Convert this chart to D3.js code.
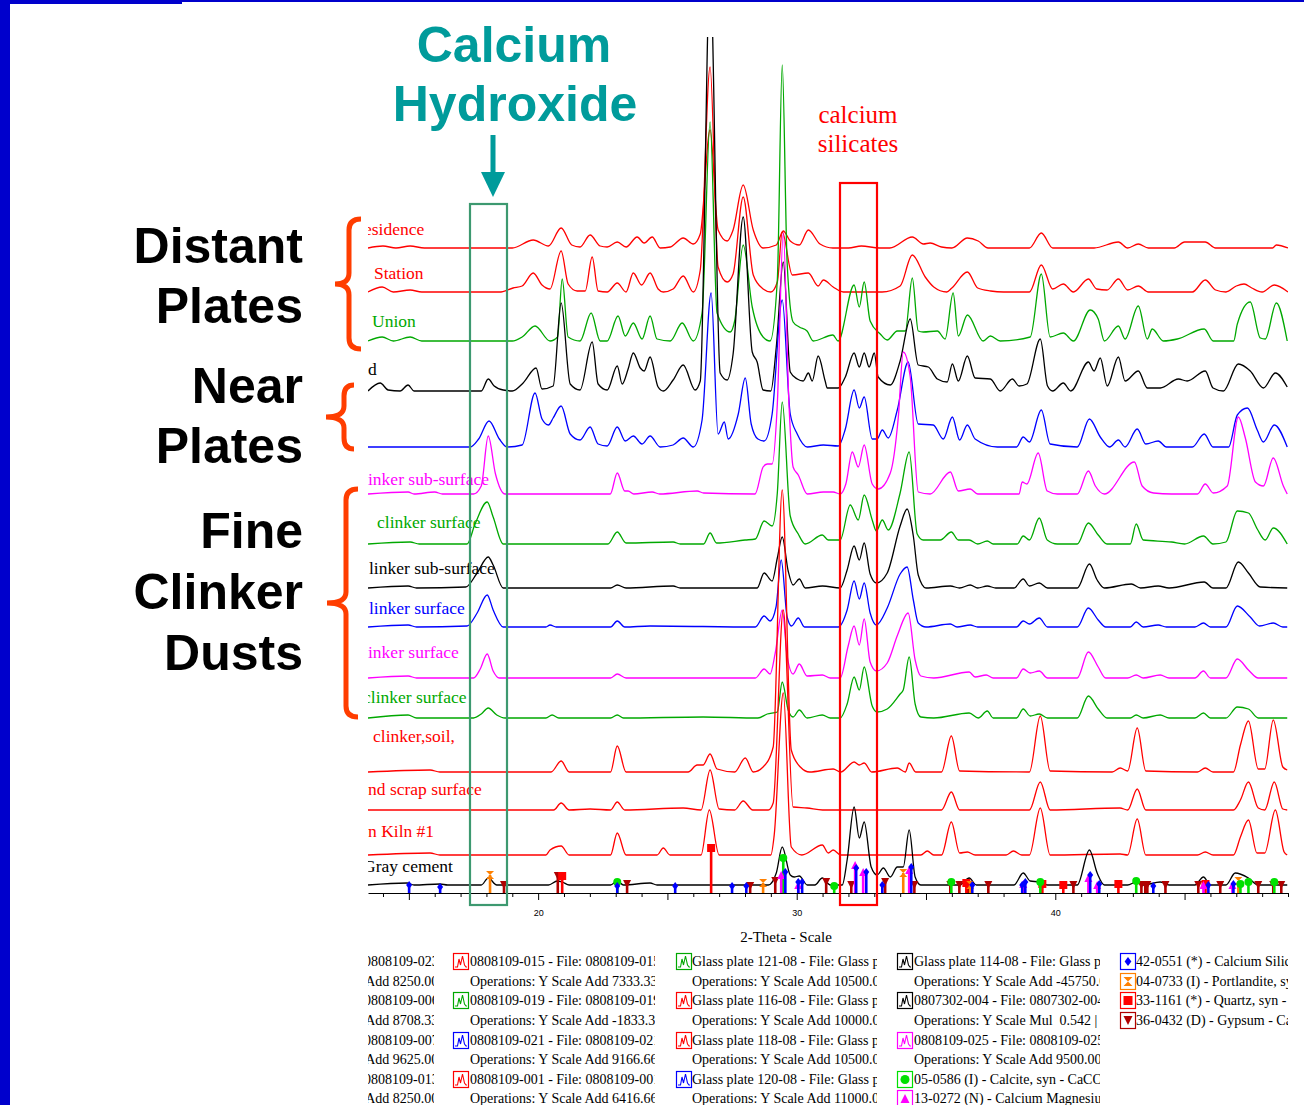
<!DOCTYPE html>
<html>
<head>
<meta charset="utf-8">
<script src="https://cdn.jsdelivr.net/npm/d3@7"></script>
<style>
body { margin: 0; background: #fff; }
svg text { white-space: pre; }
</style>
</head>
<body>
<div id="plot"></div>
<script>
// ---- Data: [2-Theta, intensity above the trace's own baseline] ----
var t1 = [[13.42,0],[14.0,2],[14.5,0],[15.05,2],[15.6,0],[19.0,0],[19.81,8],[20.4,2],[20.89,20],[21.3,3],[21.62,1],[22.01,13],[22.4,2],[22.67,1],[23.06,6],[23.4,1],[23.83,11],[24.1,5],[24.41,11],[24.72,0],[25.11,1],[25.61,10],[26.0,4],[26.27,14],[26.65,118],[26.96,18],[27.31,7],[27.54,18],[27.93,63],[28.32,18],[28.7,0],[29.21,3],[29.48,17],[29.75,7],[30.1,3],[30.45,18],[30.9,4],[31.4,0],[32.0,0],[32.5,2],[33.2,0],[33.6,0],[34.47,11],[34.9,4],[35.16,5],[35.6,1],[36.0,0],[36.6,10],[37.02,7],[37.4,0],[39.0,0],[39.46,15],[39.9,0],[41.5,0],[42.44,6],[42.8,0],[43.21,4],[43.6,0],[44.6,0],[45.0,6],[45.8,6],[46.2,0],[48.4,0],[48.55,3],[49.0,0]];
var t2 = [[13.42,0],[13.97,5],[14.4,0],[15.05,2],[15.5,0],[18.5,0],[19.03,4],[19.38,6],[19.81,19],[20.15,7],[20.46,3],[20.89,41],[21.16,8],[21.51,1],[21.82,1],[22.09,35],[22.32,1],[22.67,0],[23.06,9],[23.4,0],[23.68,19],[24.0,7],[24.33,19],[24.64,3],[24.84,0],[25.22,3],[25.61,16],[26.0,0],[26.27,22],[26.65,225],[26.96,25],[27.31,10],[27.54,18],[27.93,95],[28.32,17],[28.7,3],[29.0,0],[29.25,10],[29.44,60],[29.83,17],[30.45,19],[30.83,6],[31.03,12],[31.41,5],[31.8,0],[33.3,0],[34.0,6],[34.47,37],[34.97,15],[35.3,5],[35.8,0],[36.0,4],[36.6,20],[37.0,4],[37.5,1],[38.0,0],[39.0,0],[39.46,27],[39.9,3],[40.31,8],[40.7,0],[41.28,13],[41.6,3],[42.0,2],[42.44,13],[42.8,2],[43.21,6],[43.6,0],[45.3,0],[45.8,12],[46.2,2],[46.6,0],[47.0,6],[47.3,8],[47.6,4],[48.0,0],[48.47,7],[49.0,0]];
var t3 = [[13.42,0],[13.97,4],[14.4,0],[15.05,4],[15.5,0],[19.0,0],[19.38,4],[19.88,15],[20.46,0],[20.75,4],[20.93,62],[21.16,4],[21.62,0],[22.05,28],[22.4,0],[22.67,0],[23.09,25],[23.37,5],[23.68,18],[24.02,2],[24.33,25],[24.6,2],[25.11,0],[25.57,18],[26.0,0],[26.34,28],[26.65,219],[26.92,28],[27.43,9],[27.6,20],[27.93,96],[28.28,34],[28.7,4],[28.97,0],[29.25,61],[29.44,276],[29.63,78],[29.86,19],[30.1,14],[30.4,10],[30.64,0],[31.4,6],[31.6,0],[32.22,56],[32.42,34],[32.61,59],[32.84,20],[33.23,7],[33.5,1],[33.89,10],[34.2,10],[34.47,63],[34.7,10],[34.89,9],[35.44,10],[35.74,2],[36.05,48],[36.25,5],[36.6,26],[37.21,0],[37.49,5],[37.87,0],[39.03,4],[39.46,67],[39.8,4],[40.31,8],[40.7,0],[41.35,31],[41.66,22],[41.9,0],[42.44,15],[42.7,2],[43.21,35],[43.56,2],[43.75,12],[44.18,0],[44.72,2],[45.76,12],[46.11,0],[46.9,0],[47.04,17],[47.54,39],[47.93,3],[48.12,2],[48.55,38],[48.97,0]];
var t4 = [[13.42,0],[13.89,8],[14.2,1],[14.66,0],[14.97,6],[15.2,0],[17.8,0],[18.07,12],[18.3,5],[18.65,1],[19.0,0],[19.42,8],[19.92,23],[20.15,2],[20.58,5],[20.89,88],[21.24,7],[21.62,1],[22.09,49],[22.32,7],[22.67,1],[23.06,25],[23.25,7],[23.48,22],[23.68,38],[23.95,23],[24.1,20],[24.33,34],[24.64,4],[24.84,0],[25.22,11],[25.61,26],[26.07,1],[26.27,10],[26.65,420],[27.04,18],[27.31,11],[27.54,37],[27.93,174],[28.28,39],[28.47,29],[28.7,1],[29.0,0],[29.21,44],[29.48,129],[29.75,19],[30.02,12],[30.25,10],[30.45,18],[30.6,10],[30.83,35],[31.1,10],[31.18,3],[31.61,3],[31.88,14],[32.22,38],[32.42,24],[32.61,38],[32.8,24],[33.0,38],[33.15,14],[33.62,6],[34.0,30],[34.39,72],[34.7,26],[35.09,24],[35.44,12],[35.82,9],[36.02,27],[36.25,10],[36.6,35],[36.9,13],[37.49,12],[37.87,0],[38.34,12],[38.6,5],[38.9,7],[39.42,52],[39.7,5],[39.9,0],[40.31,8],[40.6,0],[41.28,29],[41.5,20],[41.74,33],[42.01,5],[42.44,34],[42.7,10],[43.21,20],[43.56,3],[44.06,3],[44.76,12],[45.1,10],[45.8,20],[46.1,3],[46.5,0],[47.08,27],[47.54,20],[48.05,3],[48.51,18],[48.97,4]];
var t5 = [[13.42,0],[17.37,0],[17.7,8],[18.1,26],[18.5,8],[18.8,0],[19.38,2],[19.88,54],[20.15,28],[20.4,22],[20.58,29],[20.89,41],[21.24,13],[21.62,7],[22.01,20],[22.32,3],[22.67,1],[23.06,20],[23.37,6],[23.68,11],[24.02,3],[24.33,11],[24.72,0],[25.22,2],[25.61,9],[26.0,0],[26.34,27],[26.69,154],[26.96,13],[27.2,25],[27.35,8],[27.74,33],[28.01,69],[28.24,23],[28.5,8],[28.74,6],[29.05,33],[29.44,147],[29.75,33],[30.02,13],[30.41,0],[31.03,2],[31.61,1],[31.88,18],[32.22,57],[32.42,39],[32.61,50],[32.92,8],[33.11,8],[33.31,17],[33.54,9],[33.89,37],[34.31,85],[34.7,23],[35.28,22],[35.67,8],[36.02,30],[36.3,7],[36.6,22],[36.9,8],[37.76,0],[38.5,0],[38.76,10],[39.0,5],[39.46,37],[39.8,3],[40.85,0],[41.32,28],[41.74,10],[42.1,0],[42.44,7],[42.7,0],[43.17,18],[43.5,3],[43.98,6],[44.3,0],[45.3,0],[45.76,13],[46.1,0],[46.7,0],[47.04,32],[47.43,39],[47.81,17],[48.05,5],[48.47,22],[48.97,0]];
var t6 = [[13.42,0],[14.97,2],[15.2,0],[16.0,2],[16.3,0],[17.5,0],[17.8,8],[18.07,58],[18.35,20],[18.72,0],[22.79,0],[23.06,21],[23.35,3],[23.48,3],[23.7,0],[24.41,2],[24.7,0],[26.15,3],[26.4,1],[28.39,0],[28.7,27],[28.86,30],[29.05,30],[29.25,90],[29.48,261],[29.7,90],[29.86,27],[30.06,19],[30.41,0],[31.03,2],[31.41,2],[31.68,0],[31.9,10],[32.15,42],[32.38,27],[32.61,49],[32.92,10],[33.15,5],[33.62,21],[33.93,77],[34.12,142],[34.39,117],[34.7,2],[35.16,0],[35.94,22],[36.25,3],[36.71,5],[37.0,0],[38.6,0],[38.72,12],[38.9,10],[39.34,41],[39.69,3],[40.08,0],[40.85,0],[41.28,23],[41.55,8],[41.9,0],[43.06,32],[43.36,8],[43.8,1],[44.5,0],[45.5,0],[45.8,10],[46.11,1],[46.65,8],[47.08,77],[47.35,56],[47.74,12],[48.05,8],[48.43,36],[48.82,8],[48.97,0]];
var t7 = [[13.42,0],[15.05,2],[15.4,0],[17.25,0],[17.56,20],[18.03,42],[18.26,27],[18.65,0],[22.7,0],[23.06,12],[23.4,1],[25.22,2],[25.5,0],[26.4,0],[26.65,11],[26.9,1],[28.0,4],[28.4,5],[28.74,23],[29.05,18],[29.25,51],[29.44,142],[29.75,28],[30.06,10],[30.33,0],[30.99,9],[31.22,4],[31.68,4],[32.07,39],[32.38,24],[32.61,49],[32.92,24],[33.08,13],[33.31,24],[33.54,14],[34.0,51],[34.35,92],[34.66,10],[34.89,4],[35.55,4],[35.98,12],[36.25,4],[36.67,4],[37.0,0],[37.37,3],[37.6,0],[38.53,0],[38.76,8],[39.0,4],[39.38,26],[39.69,4],[40.08,0],[40.85,0],[41.28,21],[41.66,9],[42.0,0],[42.9,0],[43.13,20],[43.4,4],[44.5,2],[45.0,0],[45.73,8],[46.1,0],[46.6,2],[47.04,33],[47.47,31],[47.81,15],[48.12,4],[48.43,16],[48.97,0]];
var t8 = [[13.42,0],[14.97,2],[15.3,0],[17.2,1],[17.64,15],[18.07,31],[18.26,23],[18.65,0],[22.8,0],[23.06,3],[23.4,0],[25.22,2],[25.5,0],[28.47,0],[28.74,15],[29.05,7],[29.25,30],[29.44,51],[29.67,17],[29.86,3],[30.1,9],[30.33,0],[31.0,2],[31.68,0],[31.95,18],[32.22,42],[32.42,28],[32.61,45],[32.84,14],[33.08,5],[33.5,15],[34.0,62],[34.27,79],[34.51,52],[34.7,13],[35.0,0],[35.94,2],[36.3,0],[36.71,3],[37.0,0],[37.37,2],[37.7,0],[38.4,0],[38.76,9],[39.0,2],[39.38,5],[39.7,0],[40.85,0],[41.32,24],[41.62,8],[41.9,0],[42.94,4],[43.3,0],[43.98,2],[44.4,0],[45.76,6],[46.1,0],[46.6,0],[47.08,26],[47.47,15],[47.93,1],[48.97,0]];
var t9 = [[13.42,0],[14.97,2],[15.3,0],[17.25,1],[17.64,14],[18.03,32],[18.26,17],[18.65,0],[20.3,0],[20.46,2],[20.7,0],[22.8,0],[23.06,6],[23.35,0],[24.33,1],[28.4,0],[28.74,11],[28.97,6],[29.2,20],[29.4,67],[29.63,10],[29.8,1],[30.06,9],[30.3,0],[31.61,0],[31.95,17],[32.22,46],[32.42,28],[32.61,44],[32.84,14],[33.08,2],[33.5,19],[34.0,53],[34.27,60],[34.51,27],[34.7,4],[35.0,0],[35.94,3],[36.2,0],[36.71,2],[37.0,0],[38.5,0],[38.76,6],[39.0,3],[39.38,9],[39.7,0],[40.85,0],[41.28,19],[41.66,7],[41.95,0],[42.9,0],[43.13,5],[43.4,0],[43.98,2],[44.3,0],[45.4,0],[45.73,4],[46.0,0],[46.6,0],[47.04,21],[47.54,10],[47.9,1],[48.43,4],[48.8,0],[48.97,0]];
var t10 = [[13.42,0],[14.97,2],[15.3,0],[17.5,0],[17.76,9],[18.03,24],[18.26,7],[18.5,0],[22.8,0],[23.06,4],[23.4,0],[28.4,0],[28.74,9],[28.97,4],[29.17,25],[29.44,68],[29.63,22],[29.86,4],[30.1,14],[30.4,2],[30.99,3],[31.3,0],[31.68,0],[31.99,32],[32.22,52],[32.42,33],[32.61,59],[32.84,16],[33.08,7],[33.5,15],[33.9,43],[34.31,65],[34.58,18],[34.8,2],[35.3,0],[36.67,6],[36.9,1],[37.33,3],[37.6,0],[38.5,0],[38.76,9],[39.03,5],[39.38,7],[39.7,0],[40.85,0],[41.28,26],[41.66,11],[41.95,0],[42.8,0],[43.13,3],[43.4,0],[44.06,3],[44.4,0],[45.4,0],[45.73,7],[46.0,0],[46.6,0],[47.04,19],[47.47,8],[47.85,0],[48.97,0]];
var t11 = [[13.42,0],[14.97,3],[15.3,0],[17.5,0],[17.8,4],[18.07,10],[18.4,3],[18.72,0],[20.3,0],[20.54,3],[20.8,0],[22.8,0],[23.06,3],[23.3,0],[26.38,1],[28.5,0],[28.86,4],[29.25,6],[29.44,36],[29.67,8],[29.86,1],[30.1,8],[30.4,0],[30.99,3],[31.3,0],[31.68,0],[31.95,14],[32.22,41],[32.42,28],[32.61,51],[32.92,12],[33.11,6],[33.5,9],[34.0,24],[34.12,28],[34.35,61],[34.58,14],[34.8,1],[35.3,0],[36.67,5],[37.02,0],[37.37,7],[37.6,0],[38.5,0],[38.76,9],[39.03,2],[39.38,4],[39.7,0],[40.85,0],[41.28,22],[41.66,9],[42.0,0],[42.9,0],[43.13,3],[43.4,0],[44.06,3],[44.4,0],[45.4,0],[45.73,5],[46.0,0],[46.6,0],[47.04,11],[47.47,9],[47.85,0],[48.97,0]];
var t12 = [[13.42,0],[15.82,2],[16.2,0],[20.5,0],[20.89,11],[21.2,0],[22.8,0],[23.06,26],[23.4,0],[25.8,0],[26.15,7],[26.38,7],[26.65,18],[26.92,3],[27.6,0],[28.01,14],[28.32,0],[28.7,5],[29.09,25],[29.44,282],[29.79,22],[30.14,5],[30.5,0],[31.41,3],[31.7,0],[32.22,10],[32.42,7],[32.61,9],[32.9,0],[33.89,4],[34.2,0],[34.35,9],[34.6,0],[35.6,0],[35.98,36],[36.3,1],[39.0,0],[39.42,56],[39.8,1],[42.2,0],[42.51,4],[42.8,1],[43.17,44],[43.5,1],[45.5,0],[45.8,4],[46.1,0],[46.89,0],[47.16,27],[47.47,51],[47.85,3],[48.1,3],[48.43,52],[48.8,5],[48.97,2]];
var t13 = [[13.42,0],[20.6,0],[20.89,7],[21.2,0],[22.01,1],[22.8,0],[23.06,8],[23.35,0],[25.61,2],[26.3,0],[26.65,40],[27.0,1],[27.6,0],[27.93,9],[28.3,0],[28.9,0],[29.09,7],[29.48,200],[29.86,3],[30.4,2],[31.0,0],[35.6,0],[35.98,18],[36.3,0],[39.0,0],[39.42,28],[39.8,0],[42.5,2],[42.8,0],[43.17,21],[43.5,0],[46.89,0],[47.16,10],[47.47,28],[47.85,2],[48.1,0],[48.47,28],[48.8,1],[48.97,0]];
var t14 = [[13.42,0],[15.82,2],[16.2,0],[20.3,0],[20.46,5],[20.89,9],[21.2,0],[22.8,0],[23.06,22],[23.4,0],[24.6,0],[24.84,7],[25.1,0],[26.3,0],[26.62,45],[27.0,0],[29.0,0],[29.13,20],[29.48,162],[29.79,8],[30.2,0],[30.99,10],[31.22,2],[31.41,5],[31.7,0],[34.8,0],[35.05,4],[35.3,0],[35.6,0],[35.98,33],[36.3,2],[36.6,3],[36.9,0],[38.1,0],[38.38,4],[38.7,0],[39.0,0],[39.42,47],[39.8,0],[42.51,1],[42.8,0],[43.17,36],[43.5,0],[45.5,0],[45.8,3],[46.1,0],[46.89,0],[47.16,18],[47.47,35],[47.8,2],[48.1,2],[48.51,45],[48.85,3],[48.97,0]];
var t15 = [[13.42,0],[14.93,2],[15.2,0],[16.21,1],[16.5,0],[17.8,0],[18.07,7],[18.4,0],[20.4,0],[20.74,4],[20.93,3],[21.2,0],[22.8,0],[23.06,4],[23.3,0],[24.33,2],[24.6,0],[28.9,0],[29.21,12],[29.44,38],[29.75,10],[29.9,8],[30.1,9],[30.41,0],[30.7,0],[30.99,7],[31.3,0],[31.76,0],[31.95,25],[32.22,78],[32.42,47],[32.61,63],[32.88,18],[33.11,10],[33.35,17],[33.62,8],[33.89,18],[34.12,18],[34.35,55],[34.58,8],[34.8,0],[36.3,0],[36.67,7],[36.95,0],[38.4,0],[38.76,12],[39.03,4],[39.38,3],[39.7,0],[40.85,0],[41.32,35],[41.62,12],[41.9,0],[42.8,0],[43.13,3],[43.4,0],[44.06,3],[44.4,0],[45.4,0],[45.73,8],[46.0,0],[46.6,0],[46.96,12],[47.47,7],[47.85,0],[48.97,0]];

var traces = [t1, t2, t3, t4, t5, t6, t7, t8, t9, t10, t11, t12, t13, t14, t15];
// vertical offset of each trace (same units as intensity)
var traceOffsets = [645, 601, 552, 502, 446, 399, 349, 305, 266, 215, 175, 121, 83, 38, 8];
// visible (clipped) trace names
var traceLabels = ["esidence", "Station", "Union", "d", "", "inker sub-surface", "clinker surface",
  "linker sub-surface", "linker surface", "inker surface", "clinker surface", "clinker,soil,",
  "nd scrap surface", "n Kiln #1", "Gray cement"];

// reference pattern sticks: [2-Theta, stick height]
var calciumSilicate = [[15.01,8],[16.21,6],[23.06,7],[25.30,7],[27.50,7],[28.05,7],[29.56,21],[30.06,11],[30.21,11],[32.30,25],[32.69,21],[33.31,8],[34.43,26],[36.79,8],[38.72,8],[38.84,11],[41.35,18],[41.70,9],[43.79,7],[45.92,8],[46.89,9]];
var portlandite = [[18.14,18],[28.70,10],[34.12,20],[36.71,8],[47.08,12]];
var quartz = [[20.93,17],[26.69,45],[36.56,10],[39.50,9],[40.31,8],[42.44,9],[45.81,9]];
var gypsum = [[18.68,8],[20.76,17],[23.44,9],[28.20,7],[29.17,12],[31.14,11],[32.11,8],[33.42,11],[34.55,8],[35.94,8],[36.29,8],[36.63,8],[37.41,8],[40.70,8],[43.33,8],[43.48,8],[43.56,8],[44.26,8],[45.53,8],[46.38,8],[47.85,8],[48.43,8],[48.74,8]];
var calcite = [[23.06,11],[29.48,35],[31.45,7],[35.98,11],[39.42,11],[43.13,12],[47.16,9],[47.47,11],[48.47,11]];
var calMag = [[29.40,18],[30.06,8],[32.26,28],[32.57,21],[34.35,23],[38.76,9],[41.28,15],[41.62,8],[45.73,8],[46.85,8]];

var tickValues = d3.range(14, 50);
var tickLabels = [20, 30, 40];

// legend texts, one list per column (cut off by the column width like in the original)
var legendCol1 = ["0808109-023", "Operations: Y Scale Add 8250.00", "0808109-006", "Operations: Y Scale Add 8708.33",
  "0808109-007", "Operations: Y Scale Add 9625.00", "0808109-013", "Operations: Y Scale Add 8250.00"];
var legendCol2 = ["0808109-015 - File: 0808109-015", "Operations: Y Scale Add 7333.333", "0808109-019 - File: 0808109-019",
  "Operations: Y Scale Add -1833.333", "0808109-021 - File: 0808109-021", "Operations: Y Scale Add 9166.667",
  "0808109-001 - File: 0808109-001", "Operations: Y Scale Add 6416.667"];
var legendCol3 = ["Glass plate 121-08 - File: Glass plate", "Operations: Y Scale Add 10500.000", "Glass plate 116-08 - File: Glass plate",
  "Operations: Y Scale Add 10000.000", "Glass plate 118-08 - File: Glass plate", "Operations: Y Scale Add 10500.000",
  "Glass plate 120-08 - File: Glass plate", "Operations: Y Scale Add 11000.000"];
var legendCol4 = ["Glass plate 114-08 - File: Glass plate", "Operations: Y Scale Add -45750.000", "0807302-004 - File: 0807302-004",
  "Operations: Y Scale Mul  0.542 |", "0808109-025 - File: 0808109-025", "Operations: Y Scale Add 9500.000",
  "05-0586 (I) - Calcite, syn - CaCO3", "13-0272 (N) - Calcium Magnesium"];
var legendCol5 = ["42-0551 (*) - Calcium Silicate", "04-0733 (I) - Portlandite, syn", "33-1161 (*) - Quartz, syn - SiO2",
  "36-0432 (D) - Gypsum - CaSO4"];

// ---- Styles ----
var RED = "#ff0000", GREEN = "#00a800", BLUE = "#0000ff", MAG = "#ff00ff", BLK = "#000000";
var traceColors = [RED, RED, GREEN, BLK, BLUE, MAG, GREEN, BLK, BLUE, MAG, GREEN, RED, RED, RED, BLK];
var labelX = [364, 374, 372, 368, 0, 368, 377, 369, 369, 368, 363, 373, 368, 368, 363];
var labelY = [235, 279, 327, 375, 0, 485, 528, 574, 614, 658, 703, 742, 795, 837, 872];
var TEAL = "#009b9b", BRACE = "#ff3d00";
var SERIF = "'Liberation Serif', 'Times New Roman', serif";
var SANS = "'Liberation Sans', Arial, sans-serif";

var W = 1304, H = 1105;
var svg = d3.select("#plot").append("svg").attr("width", W).attr("height", H);

// Set the plot box and the scales.
var plot = {left: 368, right: 1288, top: 37, bottom: 893};
var x = d3.scaleLinear().domain([13.42, 49.0]).range([plot.left, plot.right]);
var y = d3.scaleLinear().domain([0, 856]).range([plot.bottom, plot.top]);

var defs = svg.append("defs");
defs.append("clipPath").attr("id", "plotClip").append("rect")
	.attr("x", plot.left).attr("y", plot.top).attr("width", plot.right - plot.left).attr("height", 870);
defs.append("clipPath").attr("id", "labelClip").append("rect")
	.attr("x", plot.left).attr("y", 0).attr("width", plot.right - plot.left).attr("height", 905);

// Blue slide frame
svg.append("rect").attr("x", 0).attr("y", 0).attr("width", 10).attr("height", H).attr("fill", "#0000cc");
svg.append("rect").attr("x", 0).attr("y", 0).attr("width", 182).attr("height", 4).attr("fill", "#0000cc");
svg.append("rect").attr("x", 182).attr("y", 0).attr("width", W - 182).attr("height", 2).attr("fill", "#0000cc");

// Draw the traces.
var line = d3.line()
	.x(function(d) { return x(d[0]); })
	.y(function(d) { return y(d[1]); })
	.curve(d3.curveMonotoneX);

var traceG = svg.append("g").attr("clip-path", "url(#plotClip)");
traces.forEach(function(t, i) {
	traceG.append("path")
		.datum(t.map(function(p) { return [p[0], p[1] + traceOffsets[i]]; }))
		.attr("d", line)
		.attr("fill", "none")
		.attr("stroke", traceColors[i])
		.attr("stroke-width", 1.3)
		.attr("stroke-linejoin", "round");
});

// Trace names
var labelG = svg.append("g").attr("clip-path", "url(#labelClip)");
traceLabels.forEach(function(s, i) {
	if (!s) return;
	labelG.append("text")
		.attr("x", labelX[i]).attr("y", labelY[i])
		.style("font-family", SERIF).style("font-size", "17.5px")
		.attr("fill", traceColors[i])
		.text(s);
});

// Symbols
function symbolPath(type, s) {
	if (type === "diamond") return "M0," + (-s) + "L" + (s * 0.75) + ",0L0," + s + "L" + (-s * 0.75) + ",0Z";
	if (type === "square") return "M" + (-s) + "," + (-s) + "h" + (2 * s) + "v" + (2 * s) + "h" + (-2 * s) + "Z";
	if (type === "circle") return d3.symbol(d3.symbolCircle, Math.PI * s * s)();
	if (type === "up") return "M0," + (-s) + "L" + s + "," + s + "L" + (-s) + "," + s + "Z";
	if (type === "down") return "M" + (-s) + "," + (-s) + "L" + s + "," + (-s) + "L0," + s + "Z";
	if (type === "hourglass") return "M" + (-s) + "," + (-s) + "L" + s + "," + (-s) + "L0,0Z M" + (-s) + "," + s + "L" + s + "," + s + "L0,0Z";
	return "";
}

var phases = [
	{data: gypsum, color: "#b00000", type: "down"},
	{data: quartz, color: "#ff0000", type: "square"},
	{data: portlandite, color: "#ff8000", type: "hourglass"},
	{data: calcite, color: "#00e000", type: "circle"},
	{data: calMag, color: "#ff00ff", type: "up"},
	{data: calciumSilicate, color: "#0000ff", type: "diamond"}
];

var stickG = svg.append("g").attr("clip-path", "url(#plotClip)");
phases.forEach(function(ph) {
	var g = stickG.append("g").selectAll("g").data(ph.data).enter().append("g");
	g.append("line")
		.attr("x1", function(d) { return x(d[0]); })
		.attr("x2", function(d) { return x(d[0]); })
		.attr("y1", y(0))
		.attr("y2", function(d) { return y(d[1]); })
		.attr("stroke", ph.color).attr("stroke-width", 2.6);
	g.append("path")
		.attr("transform", function(d) { return "translate(" + x(d[0]) + "," + y(d[1]) + ")"; })
		.attr("d", symbolPath(ph.type, 4))
		.attr("fill", ph.color);
});

// X axis
var axis = d3.axisBottom(x)
	.tickValues(tickValues)
	.tickSize(4)
	.tickSizeOuter(0)
	.tickPadding(13)
	.tickFormat(function(d) { return tickLabels.indexOf(d) >= 0 ? d : ""; });
var axG = svg.append("g").attr("transform", "translate(0," + plot.bottom + ")").call(axis);
axG.select(".domain").attr("stroke", "#000");
axG.selectAll(".tick line").attr("y2", function(d) { return d % 5 === 0 ? 7 : 4; });
axG.selectAll(".tick text").style("font-family", SANS).style("font-size", "9px").attr("fill", "#000");

svg.append("text")
	.attr("x", 786).attr("y", 942)
	.attr("text-anchor", "middle")
	.style("font-family", SERIF).style("font-size", "15px")
	.text("2-Theta - Scale");

// Highlight boxes
svg.append("rect").attr("x", 470).attr("y", 204).attr("width", 37).attr("height", 701)
	.attr("fill", "none").attr("stroke", "#3d9970").attr("stroke-width", 2.2);
svg.append("rect").attr("x", 840).attr("y", 183).attr("width", 37).attr("height", 722)
	.attr("fill", "none").attr("stroke", "#ff0000").attr("stroke-width", 2.2);

// Annotations
svg.append("text").attr("x", 514).attr("y", 62).attr("text-anchor", "middle")
	.style("font-family", SANS).style("font-size", "50px").style("font-weight", "bold")
	.attr("fill", TEAL).text("Calcium");
svg.append("text").attr("x", 515).attr("y", 121).attr("text-anchor", "middle")
	.style("font-family", SANS).style("font-size", "50px").style("font-weight", "bold")
	.attr("fill", TEAL).text("Hydroxide");
svg.append("rect").attr("x", 490.5).attr("y", 135).attr("width", 5).attr("height", 40).attr("fill", TEAL);
svg.append("path").attr("d", "M481,172L505,172L493,197Z").attr("fill", TEAL);

svg.append("text").attr("x", 858).attr("y", 123).attr("text-anchor", "middle")
	.style("font-family", SERIF).style("font-size", "25px").attr("fill", "#ff0000").text("calcium");
svg.append("text").attr("x", 858).attr("y", 152).attr("text-anchor", "middle")
	.style("font-family", SERIF).style("font-size", "25px").attr("fill", "#ff0000").text("silicates");

// Group names on the left with their braces
var groupText = [["Distant", 263], ["Plates", 323], ["Near", 403], ["Plates", 463], ["Fine", 548], ["Clinker", 609], ["Dusts", 670]];
groupText.forEach(function(g) {
	svg.append("text").attr("x", 303).attr("y", g[1]).attr("text-anchor", "end")
		.style("font-family", SANS).style("font-size", "50px").style("font-weight", "bold")
		.attr("fill", "#000").text(g[0]);
});

function brace(xEnd, xBar, xTip, y0, y1) {
	var m = (y0 + y1) / 2, r = 11;
	return "M" + xEnd + "," + y0 + " Q" + xBar + "," + y0 + " " + xBar + "," + (y0 + r) +
		" L" + xBar + "," + (m - r) + " Q" + xBar + "," + m + " " + xTip + "," + m +
		" Q" + xBar + "," + m + " " + xBar + "," + (m + r) +
		" L" + xBar + "," + (y1 - r) + " Q" + xBar + "," + y1 + " " + xEnd + "," + y1;
}
[[361, 349, 335, 219, 349], [354, 344, 326, 385, 449], [358, 346, 327, 489, 717]].forEach(function(b) {
	svg.append("path").attr("d", brace(b[0], b[1], b[2], b[3], b[4]))
		.attr("fill", "none").attr("stroke", BRACE).attr("stroke-width", 5);
});

// ---- Legend ----
var rowY = [961, 981, 1000, 1020, 1040, 1059, 1079, 1098];
var cols = [
	{texts: legendCol1, left: 368, right: 434, textX: 364, icons: []},
	{texts: legendCol2, left: 440, right: 655, textX: 470, iconX: 453,
		icons: [[0, "trace", RED], [2, "trace", GREEN], [4, "trace", BLUE], [6, "trace", RED]]},
	{texts: legendCol3, left: 660, right: 877, textX: 692, iconX: 676,
		icons: [[0, "trace", GREEN], [2, "trace", RED], [4, "trace", RED], [6, "trace", BLUE]]},
	{texts: legendCol4, left: 885, right: 1100, textX: 914, iconX: 897,
		icons: [[0, "trace", BLK], [2, "trace", BLK], [4, "trace", MAG], [6, "circle", "#00e000"], [7, "up", "#ff00ff"]]},
	{texts: legendCol5, left: 1110, right: 1288, textX: 1136, iconX: 1120,
		icons: [[0, "diamond", "#0000ff"], [1, "hourglass", "#ff8000"], [2, "square", "#ff0000"], [3, "down", "#b00000"]]}
];

var measure = svg.append("text").style("font-family", SERIF).style("font-size", "14px").attr("opacity", 0);
function textWidth(s) { measure.text(s); return measure.node().getComputedTextLength(); }

cols.forEach(function(c, ci) {
	defs.append("clipPath").attr("id", "legClip" + ci).append("rect")
		.attr("x", c.left).attr("y", 945).attr("width", c.right - c.left).attr("height", 160);
	var g = svg.append("g").attr("clip-path", "url(#legClip" + ci + ")");
	c.texts.forEach(function(s, i) {
		var tx = c.textX;
		// first column: the cut-off second lines start at "Add"
		if (ci === 0 && s.indexOf("Operations") === 0) tx = 366 - textWidth("Operations: Y Scale ");
		g.append("text").attr("x", tx).attr("y", rowY[i] + 5)
			.style("font-family", SERIF).style("font-size", "14px").attr("fill", "#000")
			.text(s);
	});
	c.icons.forEach(function(ic) {
		var ix = c.iconX, iy = rowY[ic[0]] - 8;
		var ig = svg.append("g").attr("transform", "translate(" + ix + "," + iy + ")");
		ig.append("rect").attr("x", 0.5).attr("y", 0.5).attr("width", 15).attr("height", 16)
			.attr("fill", "#fff").attr("stroke", ic[2]).attr("stroke-width", 1.2);
		if (ic[1] === "trace") {
			ig.append("path").attr("d", "M2,14L4.5,14L6,6L7.5,12L9.5,3L11.5,12L13,14L14,14")
				.attr("fill", "none").attr("stroke", ic[2]).attr("stroke-width", 1.1);
		} else {
			ig.append("path").attr("transform", "translate(8,8.5)")
				.attr("d", symbolPath(ic[1], 4.5)).attr("fill", ic[2]);
		}
	});
});
measure.remove();
</script>
</body>
</html>
